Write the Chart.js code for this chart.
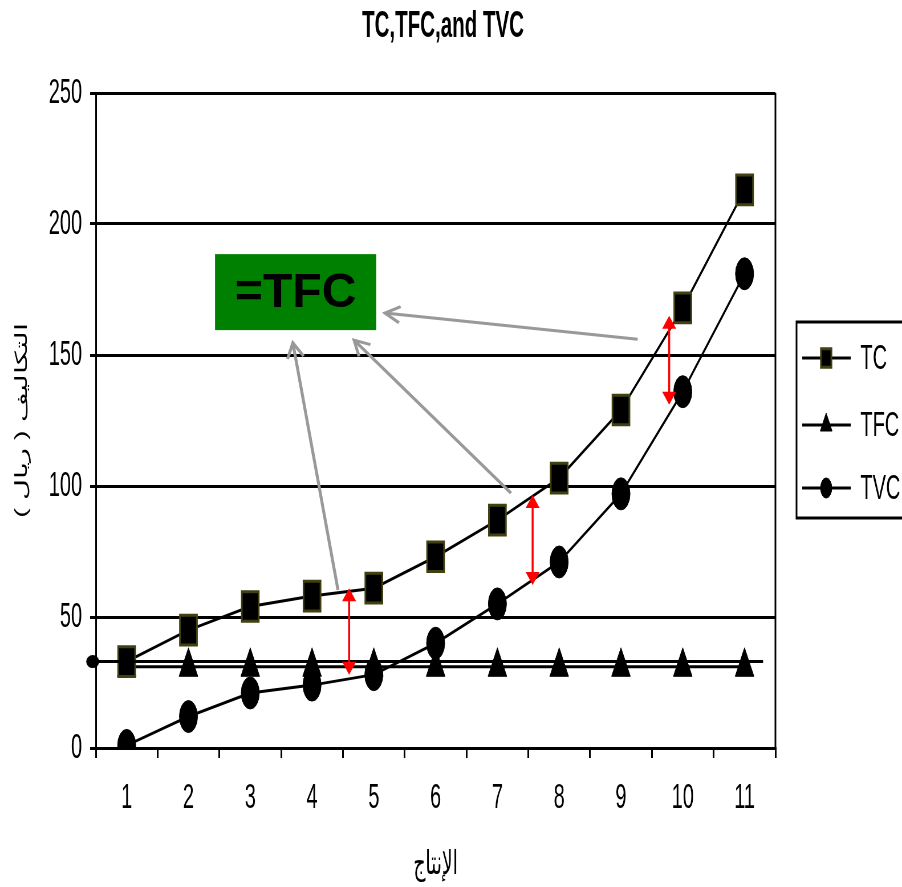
<!DOCTYPE html>
<html>
<head>
<meta charset="utf-8">
<script src="https://cdn.jsdelivr.net/npm/chart.js@4.4.1/dist/chart.umd.min.js"></script>
<style>
html, body { margin: 0; padding: 0; background: #fff; overflow: hidden; }
#mycanvas { display: block; }
</style>
</head>
<body>
<canvas id="mycanvas" width="1582" height="887" style="width:902px;height:887px"></canvas>
<script>
var labels = ['1', '2', '3', '4', '5', '6', '7', '8', '9', '10', '11'];
var tc  = [33, 45, 54, 58, 61, 73, 87, 103, 129, 168, 213];
var tfc = [31, 31, 31, 31, 31, 31, 31, 31, 31, 31, 31];
var tvc = [1, 12, 21, 24, 28, 40, 55, 71, 97, 136, 181];
var yTicks = [0, 50, 100, 150, 200, 250];
var fixedCost = 33;

// annotations, in axis units (x = category index, y = value)
var redArrows = [[3.6, 61, 28], [6.57, 96.6, 62.2], [8.78, 165, 131]];
var grayArrows = [[3.42, 60.3, 2.69, 154.6], [6.22, 97.3, 3.68, 155.7], [8.27, 156, 4.18, 166]];
var tfcBox = [1.43, 4.04, 159.5, 188.5];

// the original picture is squeezed sideways, so draw wide and shrink with css
var SQ = 0.57;
var FONT = "'Liberation Sans', Arial, sans-serif";

var overlay = {
	id: 'overlay',
	afterDatasetsDraw: function(chart) {
		var ctx = chart.ctx;
		var xs = chart.scales.x, ys = chart.scales.y;
		function px(v) { return xs.getPixelForValue(v) * SQ; }
		function py(v) { return ys.getPixelForValue(v); }

		ctx.save();
		ctx.scale(1 / SQ, 1);

		// fixed cost line
		ctx.strokeStyle = '#000';
		ctx.lineWidth = 3;
		ctx.beginPath();
		ctx.moveTo(px(-0.55), py(fixedCost));
		ctx.lineTo(px(10.3), py(fixedCost));
		ctx.stroke();
		ctx.fillStyle = '#000';
		ctx.beginPath();
		ctx.arc(px(-0.55), py(fixedCost), 6.5, 0, Math.PI * 2);
		ctx.fill();

		// red double arrows
		ctx.strokeStyle = '#ff0000';
		ctx.fillStyle = '#ff0000';
		ctx.lineWidth = 2;
		redArrows.forEach(function(a) {
			var x = px(a[0]), y1 = py(a[1]), y2 = py(a[2]);
			ctx.beginPath();
			ctx.moveTo(x, y1 + 12);
			ctx.lineTo(x, y2 - 12);
			ctx.stroke();
			ctx.beginPath();
			ctx.moveTo(x, y1);
			ctx.lineTo(x - 7, y1 + 13);
			ctx.lineTo(x + 7, y1 + 13);
			ctx.closePath();
			ctx.fill();
			ctx.beginPath();
			ctx.moveTo(x, y2);
			ctx.lineTo(x - 7, y2 - 13);
			ctx.lineTo(x + 7, y2 - 13);
			ctx.closePath();
			ctx.fill();
		});

		// grey pointers
		ctx.strokeStyle = '#999999';
		ctx.lineWidth = 3;
		grayArrows.forEach(function(a) {
			var x1 = px(a[0]), y1 = py(a[1]), x2 = px(a[2]), y2 = py(a[3]);
			var ang = Math.atan2(y2 - y1, x2 - x1);
			ctx.beginPath();
			ctx.moveTo(x1, y1);
			ctx.lineTo(x2, y2);
			ctx.stroke();
			ctx.beginPath();
			ctx.moveTo(x2 - 17 * Math.cos(ang - 0.5), y2 - 17 * Math.sin(ang - 0.5));
			ctx.lineTo(x2, y2);
			ctx.lineTo(x2 - 17 * Math.cos(ang + 0.5), y2 - 17 * Math.sin(ang + 0.5));
			ctx.stroke();
		});

		// green box
		var bx1 = px(tfcBox[0]), bx2 = px(tfcBox[1]), by1 = py(tfcBox[3]), by2 = py(tfcBox[2]);
		ctx.fillStyle = '#008000';
		ctx.fillRect(bx1, by1, bx2 - bx1, by2 - by1);
		ctx.fillStyle = '#000';
		ctx.font = 'bold 48px ' + FONT;
		ctx.textAlign = 'center';
		ctx.textBaseline = 'middle';
		ctx.direction = 'ltr';
		ctx.fillText('=TFC', (bx1 + bx2) / 2, (by1 + by2) / 2 + 2);

		ctx.restore();
	},
	afterDraw: function(chart) {
		var ctx = chart.ctx, a = chart.chartArea;
		ctx.save();

		// right border of plot area
		ctx.strokeStyle = '#000';
		ctx.lineWidth = 3;
		ctx.beginPath();
		ctx.moveTo(a.right, a.top);
		ctx.lineTo(a.right, a.bottom);
		ctx.stroke();

		// title
		ctx.fillStyle = '#000';
		ctx.font = 'bold 36px ' + FONT;
		ctx.textAlign = 'center';
		ctx.textBaseline = 'middle';
		ctx.fillText('TC,TFC,and TVC', chart.width / 2 - 14, 27);

		// legend
		var lx = a.right + 37;
		ctx.lineWidth = 3;
		ctx.strokeRect(lx, 322, 260, 196);
		var rows = [358, 425, 488];
		var sizes = [13, 12, 10];
		chart.data.datasets.forEach(function(ds, i) {
			var y = rows[i];
			ctx.strokeStyle = '#000';
			ctx.lineWidth = 3;
			ctx.beginPath();
			ctx.moveTo(lx + 10, y);
			ctx.lineTo(lx + 95, y);
			ctx.stroke();
			ctx.fillStyle = ds.pointBackgroundColor;
			ctx.strokeStyle = ds.pointBorderColor;
			ctx.lineWidth = ds.pointBorderWidth;
			Chart.helpers.drawPoint(ctx, {pointStyle: ds.pointStyle, radius: sizes[i], borderWidth: ds.pointBorderWidth, rotation: 0}, lx + 52, y);
			ctx.fillStyle = '#000';
			ctx.font = '35px ' + FONT;
			ctx.textAlign = 'left';
			ctx.textBaseline = 'middle';
			ctx.fillText(ds.label, lx + 112, y + 1);
		});
		ctx.restore();
	}
};

var ctx = document.getElementById('mycanvas');

var lineChart = new Chart(ctx, {
	type: 'line',
	data: {
		labels: labels,
		datasets: [
			{
				label: 'TC',
				data: tc,
				borderColor: '#000',
				borderWidth: 3,
				tension: 0,
				pointStyle: 'rect',
				pointRadius: 21,
				pointBackgroundColor: '#000',
				pointBorderColor: '#404010',
				pointBorderWidth: 3
			},
			{
				label: 'TFC',
				data: tfc,
				borderColor: '#000',
				borderWidth: 3,
				tension: 0,
				pointStyle: 'triangle',
				pointRadius: 19,
				pointBackgroundColor: '#000',
				pointBorderColor: '#000',
				pointBorderWidth: 1
			},
			{
				label: 'TVC',
				data: tvc,
				borderColor: '#000',
				borderWidth: 3,
				tension: 0,
				pointStyle: 'circle',
				pointRadius: 16,
				pointBackgroundColor: '#000',
				pointBorderColor: '#000',
				pointBorderWidth: 1
			}
		]
	},
	options: {
		responsive: false,
		animation: false,
		devicePixelRatio: 1,
		layout: { padding: { top: 93, right: 222, left: 0, bottom: 0 } },
		plugins: {
			legend: { display: false },
			title: { display: false },
			tooltip: { enabled: false }
		},
		scales: {
			x: {
				offset: true,
				grid: { offset: true, drawOnChartArea: false, color: '#000', lineWidth: 3, tickLength: 10 },
				border: { color: '#000', width: 3 },
				ticks: { color: '#000', font: { family: FONT, size: 35 }, padding: 19, maxRotation: 0 },
				title: { display: true, text: 'الإنتاج', color: '#000', font: { family: FONT, size: 33 }, padding: { top: 0, bottom: 2 } },
				afterFit: function(s) { s.height = 139; }
			},
			y: {
				min: yTicks[0],
				max: yTicks[yTicks.length - 1],
				afterBuildTicks: function(s) { s.ticks = yTicks.map(function(v) { return { value: v }; }); },
				grid: { color: '#000', lineWidth: 3, tickLength: 10 },
				border: { color: '#000', width: 3 },
				ticks: { color: '#000', font: { family: FONT, size: 35 }, padding: 14 },
				title: { display: true, text: '\u200Fالتكاليف ( ريال )\u200F', color: '#000', font: { family: FONT, size: 29 }, padding: { top: 22, bottom: 0 } },
				afterFit: function(s) { s.width = 168; }
			}
		}
	},
	plugins: [overlay]
});
</script>
</body>
</html>
